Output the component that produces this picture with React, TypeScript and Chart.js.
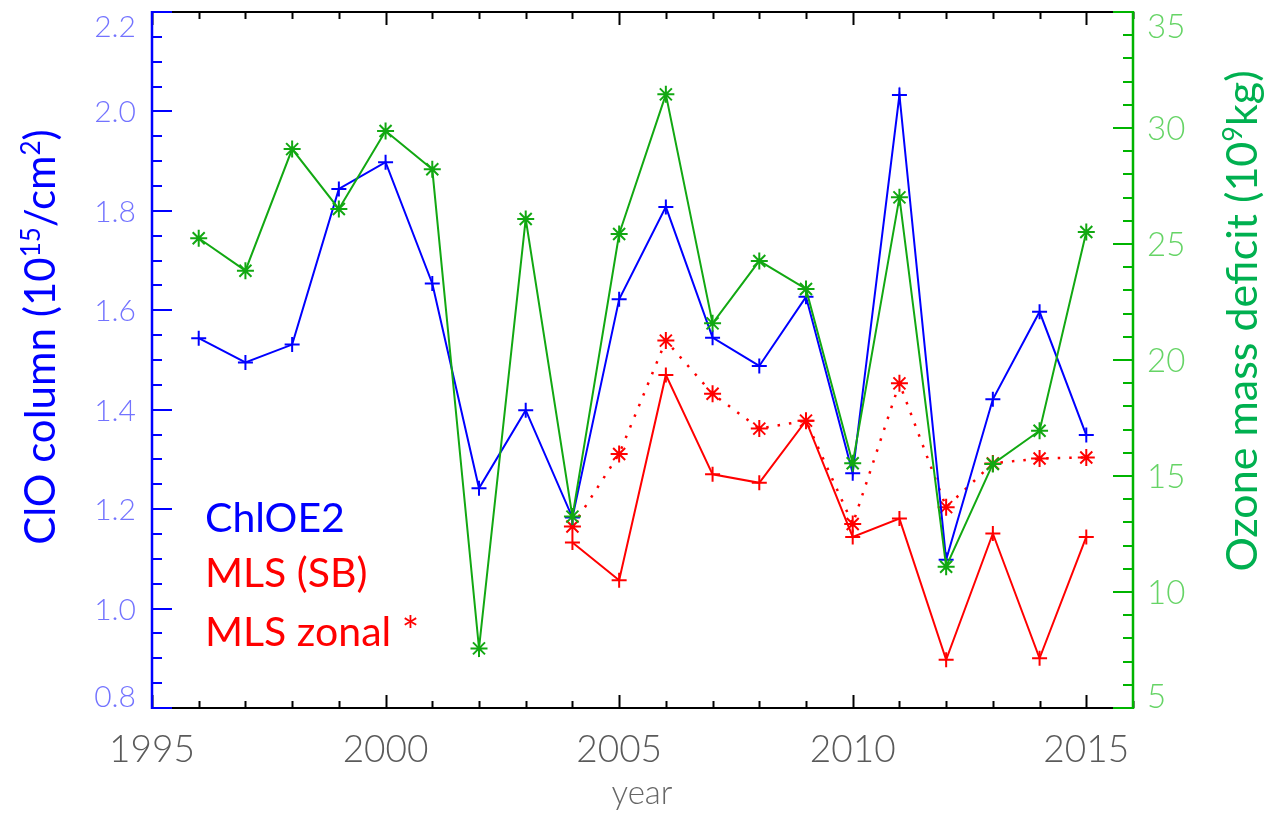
import React, { useEffect, useRef } from "react";
import { Chart, registerables } from "chart.js";

Chart.register(...registerables);

// ---------- data ----------
const years = [1996, 1997, 1998, 1999, 2000, 2001, 2002, 2003, 2004, 2005, 2006, 2007, 2008, 2009, 2010, 2011, 2012, 2013, 2014, 2015];
const chloe2 = [1.544, 1.495, 1.531, 1.844, 1.898, 1.654, 1.242, 1.399, 1.183, 1.622, 1.808, 1.545, 1.488, 1.627, 1.272, 2.033, 1.098, 1.421, 1.597, 1.349];
const ozoneDeficit = [25.25, 23.85, 29.09, 26.51, 29.87, 28.22, 7.57, 26.08, 13.25, 25.43, 31.45, 21.58, 24.27, 23.06, 15.55, 27.01, 11.09, 15.52, 16.95, 25.52];
const mlsYears = [2004, 2005, 2006, 2007, 2008, 2009, 2010, 2011, 2012, 2013, 2014, 2015];
const mlsSB = [1.133, 1.057, 1.47, 1.27, 1.253, 1.378, 1.144, 1.181, 0.897, 1.151, 0.9, 1.144];
const mlsZonal = [1.165, 1.311, 1.539, 1.432, 1.362, 1.378, 1.17, 1.453, 1.204, 1.292, 1.302, 1.304];

const xTickLabels = ["1995", "2000", "2005", "2010", "2015"];
const leftTickLabels = ["0.8", "1.0", "1.2", "1.4", "1.6", "1.8", "2.0", "2.2"];
const rightTickLabels = ["5", "10", "15", "20", "25", "30", "35"];
const legendLabels = ["ChlOE2", "MLS (SB)", "MLS zonal *"];

const X_MIN = 1995, X_MAX = 2016;
const L_MIN = 0.8, L_MAX = 2.2;
const R_MIN = 5, R_MAX = 35;

// ---------- styles ----------
const BLUE = "#0000ff";
const RED = "#ff0000";
const GREEN = "#12a812";
const GREEN_AXIS = "#00b400";
const TITLE_GREEN = "#00b050";
const LEFT_TICK_COLOR = "#7373ff";
const RIGHT_TICK_COLOR = "#66d466";
const GRAY = "#5a5a5a";
const TICK_FONT = "Lato";
const TITLE_FONT = "Lato";

type Part = { t: string; sup?: boolean };

function drawRich(ctx: CanvasRenderingContext2D, parts: Part[], size: number, cx: number, cy: number, rot: number, color: string) {
  const font = `${size}px ${TITLE_FONT}`;
  const supFont = `${Math.round(size * 0.62)}px ${TITLE_FONT}`;
  let total = 0;
  const widths: number[] = [];
  for (const p of parts) {
    ctx.font = p.sup ? supFont : font;
    const w = ctx.measureText(p.t).width;
    widths.push(w);
    total += w;
  }
  ctx.save();
  ctx.translate(cx, cy);
  ctx.rotate(rot);
  ctx.fillStyle = color;
  ctx.textBaseline = "alphabetic";
  ctx.textAlign = "left";
  let x = -total / 2;
  parts.forEach((p, i) => {
    ctx.font = p.sup ? supFont : font;
    ctx.fillText(p.t, x, p.sup ? -size * 0.36 : 0);
    x += widths[i];
  });
  ctx.restore();
}

const decoPlugin = {
  id: "deco",
  afterDatasetsDraw(chart: any) {
    const ctx: CanvasRenderingContext2D = chart.ctx;
    const { left, right, top, bottom } = chart.chartArea;
    const xs = chart.scales.x;
    const yl = chart.scales.yL;
    const yr = chart.scales.yR;
    const seg = (x1: number, y1: number, x2: number, y2: number) => {
      ctx.beginPath();
      ctx.moveTo(x1, y1);
      ctx.lineTo(x2, y2);
      ctx.stroke();
    };
    ctx.save();
    ctx.lineCap = "butt";
    // bottom / top axes
    ctx.strokeStyle = "#000";
    ctx.lineWidth = 2;
    seg(left, bottom, right, bottom);
    seg(left, top, right, top);
    for (let v = X_MIN; v <= X_MAX; v++) {
      const px = Math.round(xs.getPixelForValue(v)) + 0.5;
      const len = (v - X_MIN) % 5 === 0 ? 13 : 7;
      seg(px, bottom, px, bottom - len);
      seg(px, top, px, top + len);
    }
    // left axis
    ctx.strokeStyle = BLUE;
    ctx.lineWidth = 2.5;
    seg(left, top - 1, left, bottom + 1);
    ctx.lineWidth = 2;
    for (let i = 0; i <= 28; i++) {
      const v = L_MIN + i * 0.05;
      const py = Math.round(yl.getPixelForValue(v));
      const len = i % 4 === 0 ? 20 : 10;
      seg(left, py, left + len, py);
    }
    // right axis
    ctx.strokeStyle = GREEN_AXIS;
    ctx.lineWidth = 2.5;
    seg(right, top - 1, right, bottom + 1);
    ctx.lineWidth = 2;
    for (let v = R_MIN; v <= R_MAX; v++) {
      const py = Math.round(yr.getPixelForValue(v));
      const len = (v - R_MIN) % 5 === 0 ? 20 : 10;
      seg(right, py, right - len, py);
    }

    // tick labels
    ctx.textBaseline = "alphabetic";
    // left
    ctx.font = `300 30px ${TICK_FONT}`;
    ctx.fillStyle = LEFT_TICK_COLOR;
    ctx.textAlign = "right";
    leftTickLabels.forEach((lab) => {
      let cy = yl.getPixelForValue(parseFloat(lab));
      cy = Math.min(Math.max(cy, top + 14), bottom - 12);
      ctx.fillText(lab, left - 16, cy + 11);
    });
    // right
    ctx.font = `300 33px ${TICK_FONT}`;
    ctx.fillStyle = RIGHT_TICK_COLOR;
    ctx.textAlign = "left";
    rightTickLabels.forEach((lab) => {
      let cy = yr.getPixelForValue(parseFloat(lab));
      cy = Math.min(Math.max(cy, top + 14), bottom - 12);
      ctx.fillText(lab, right + 14, cy + 12);
    });
    // bottom
    ctx.font = `300 37px ${TICK_FONT}`;
    ctx.fillStyle = GRAY;
    ctx.textAlign = "center";
    xTickLabels.forEach((lab) => {
      const cx = xs.getPixelForValue(parseFloat(lab));
      ctx.fillText(lab, cx, 762);
    });
    // x title
    ctx.font = `300 33px ${TICK_FONT}`;
    ctx.fillStyle = "#666666";
    ctx.fillText("year", 642, 804);

    // axis titles
    drawRich(
      ctx,
      [{ t: "ClO column (10" }, { t: "15", sup: true }, { t: "/cm" }, { t: "2", sup: true }, { t: ")" }],
      42, 55, 337, -Math.PI / 2, BLUE
    );
    drawRich(
      ctx,
      [{ t: "Ozone mass deficit (10" }, { t: "9", sup: true }, { t: "kg)" }],
      43, 1257, 321, -Math.PI / 2, TITLE_GREEN
    );

    // in-plot legend text
    ctx.font = `41px ${TITLE_FONT}`;
    ctx.textAlign = "left";
    ctx.fillStyle = BLUE;
    ctx.fillText(legendLabels[0], 205, 532);
    ctx.fillStyle = RED;
    ctx.fillText(legendLabels[1], 205, 587);
    ctx.fillText(legendLabels[2], 205, 646);
    ctx.restore();
  },
};

export default function App() {
  const ref = useRef<HTMLCanvasElement | null>(null);
  useEffect(() => {
    if (!ref.current) return;
    const pts = (xsArr: number[], ysArr: number[]) => xsArr.map((x, i) => ({ x, y: ysArr[i] }));
    const chart = new Chart(ref.current, {
      type: "line",
      data: {
        datasets: [
          {
            label: "Ozone mass deficit",
            data: pts(years, ozoneDeficit),
            yAxisID: "yR",
            borderColor: GREEN,
            borderWidth: 2,
            pointStyle: "star",
            pointRadius: 8.5,
            pointBorderColor: GREEN,
            pointBorderWidth: 2,
            pointBackgroundColor: GREEN,
            tension: 0,
            fill: false,
          },
          {
            label: "ChlOE2",
            data: pts(years, chloe2),
            yAxisID: "yL",
            borderColor: BLUE,
            borderWidth: 2,
            pointStyle: "cross",
            pointRadius: 7.5,
            pointBorderColor: BLUE,
            pointBorderWidth: 2,
            tension: 0,
            fill: false,
          },
          {
            label: "MLS zonal",
            data: pts(mlsYears, mlsZonal),
            yAxisID: "yL",
            borderColor: RED,
            borderWidth: 2.5,
            borderDash: [2.5, 9],
            pointStyle: "star",
            pointRadius: 8.5,
            pointBorderColor: RED,
            pointBorderWidth: 2,
            tension: 0,
            fill: false,
          },
          {
            label: "MLS (SB)",
            data: pts(mlsYears, mlsSB),
            yAxisID: "yL",
            borderColor: RED,
            borderWidth: 2,
            pointStyle: "cross",
            pointRadius: 7.5,
            pointBorderColor: RED,
            pointBorderWidth: 2,
            tension: 0,
            fill: false,
          },
        ],
      },
      options: {
        animation: false,
        responsive: false,
        devicePixelRatio: 1,
        events: [],
        layout: { padding: { left: 152, right: 132, top: 12, bottom: 107 } },
        plugins: { legend: { display: false }, tooltip: { enabled: false }, title: { display: false } },
        scales: {
          x: { type: "linear", min: X_MIN, max: X_MAX, display: false },
          yL: { type: "linear", position: "left", min: L_MIN, max: L_MAX, display: false },
          yR: { type: "linear", position: "right", min: R_MIN, max: R_MAX, display: false },
        },
        elements: { line: { clip: false } as any },
      } as any,
      plugins: [decoPlugin],
    });
    return () => chart.destroy();
  }, []);
  return (
    <div style={{ position: "fixed", left: 0, top: 0, width: 1265, height: 815, background: "#fff" }}>
      <canvas ref={ref} width={1265} height={815} style={{ width: 1265, height: 815, display: "block" }} />
    </div>
  );
}
